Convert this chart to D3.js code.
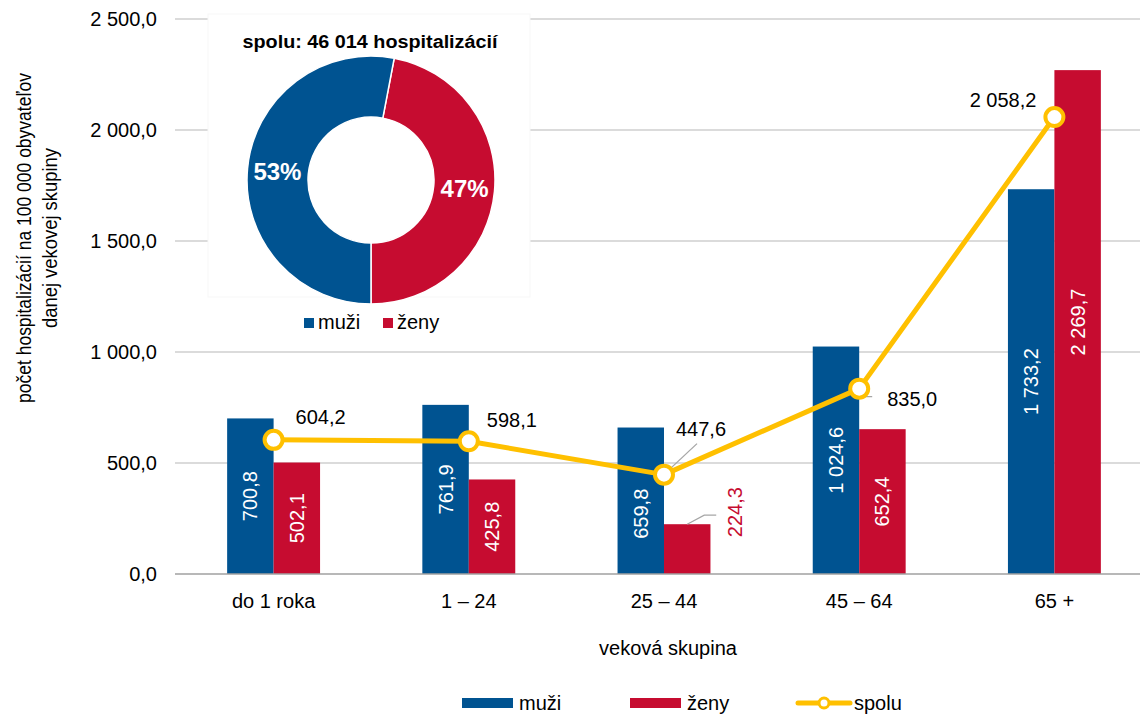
<!DOCTYPE html>
<html>
<head>
<meta charset="utf-8">
<script src="https://cdn.jsdelivr.net/npm/d3@7"></script>
<style>
  html, body { margin: 0; padding: 0; background: #fff; }
  svg { display: block; font-family: "Liberation Sans", Arial, sans-serif; }
</style>
</head>
<body>
<svg id="chart" width="1140" height="714"></svg>
<script>
// ---------------- DATA ----------------
const categories = ["do 1 roka", "1 – 24", "25 – 44", "45 – 64", "65 +"];
const muzi  = [700.8, 761.9, 659.8, 1024.6, 1733.2];
const zeny  = [502.1, 425.8, 224.3, 652.4, 2269.7];
const spolu = [604.2, 598.1, 447.6, 835.0, 2058.2];
const yTicks = [0, 500, 1000, 1500, 2000, 2500];
const pieLabels = ["muži", "ženy"];
const pieShares = [53, 47];
const pieTitle = "spolu: 46 014 hospitalizácií";
const seriesNames = ["muži", "ženy", "spolu"];
const yTitleLines = ["počet hospitalizácií na 100 000 obyvateľov", "danej vekovej skupiny"];
const xTitle = "veková skupina";

// ---------------- STYLE / LAYOUT ----------------
const BLUE = "#005391", RED = "#C60C30", YELLOW = "#FFC000";
const GRID = "#cfcfcf", AXIS = "#a0a0a0";
const FONT = 20;

const svg = d3.select("#chart");
const W = 1140, H = 714;

const loc = d3.formatLocale({decimal: ",", thousands: " ", grouping: [3], currency: ["", ""]});
const fmt = loc.format(",.1f");

const x = d3.scaleBand().domain(categories).range([176, 1152]).paddingInner(0.524).paddingOuter(0.262);
const xs = d3.scaleBand().domain(["m", "z"]).range([0, x.bandwidth()]);
const y = d3.scaleLinear().domain([0, 2500]).range([574, 19]);

// gridlines
svg.append("g").selectAll("line").data(yTicks.filter(d => d > 0)).join("line")
  .attr("x1", 175).attr("x2", W).attr("y1", d => y(d)).attr("y2", d => y(d))
  .attr("stroke", GRID).attr("stroke-width", 1.6);

// y axis labels (using d3 axis for the text)
const yAxis = d3.axisLeft(y).tickValues(yTicks).tickFormat(fmt).tickSize(0).tickPadding(0);
const yg = svg.append("g").attr("transform", "translate(157,0)").call(yAxis);
yg.select(".domain").remove();
yg.selectAll("text").attr("font-size", FONT).attr("fill", "#000")
  .attr("font-family", "'Liberation Sans', Arial, sans-serif");

// ---------------- PIE INSET ----------------
const inset = svg.append("g");
inset.append("rect").attr("x", 208).attr("y", 14).attr("width", 322).attr("height", 283)
  .attr("fill", "#fff").attr("stroke", "#f7f7f7").attr("stroke-width", 1);

const pcx = 371, pcy = 180, rOut = 124, rIn = 63;
const pieTotal = d3.sum(pieShares);
// ženy drawn first so that its slice ends at the bottom
const pieData = [{name: pieLabels[1], v: pieShares[1], c: RED}, {name: pieLabels[0], v: pieShares[0], c: BLUE}];
const start = Math.PI - 2 * Math.PI * pieShares[1] / pieTotal;
const pie = d3.pie().sort(null).value(d => d.v).startAngle(start).endAngle(start + 2 * Math.PI);
const arc = d3.arc().innerRadius(rIn).outerRadius(rOut);
const labelArc = d3.arc().innerRadius(94).outerRadius(94);
const pg = inset.append("g").attr("transform", `translate(${pcx},${pcy})`);
const arcs = pie(pieData);
pg.selectAll("path").data(arcs).join("path")
  .attr("d", arc).attr("fill", d => d.data.c).attr("stroke", "#fff").attr("stroke-width", 1.5);
pg.selectAll("text").data(arcs).join("text")
  .attr("transform", d => `translate(${labelArc.centroid(d)})`)
  .attr("text-anchor", "middle").attr("dy", "0.36em")
  .attr("font-size", 24).attr("font-weight", "bold").attr("fill", "#fff")
  .text(d => Math.round(d.data.v / pieTotal * 100) + "%");

inset.append("text").attr("x", 370).attr("y", 48).attr("text-anchor", "middle")
  .attr("font-size", 18).attr("font-weight", "bold").attr("fill", "#000")
  .attr("textLength", 255).attr("lengthAdjust", "spacingAndGlyphs")
  .text(pieTitle);

// pie legend
const pl = [{n: pieLabels[0], c: BLUE, x: 304}, {n: pieLabels[1], c: RED, x: 383}];
pl.forEach(d => {
  inset.append("rect").attr("x", d.x).attr("y", 318).attr("width", 10).attr("height", 10).attr("fill", d.c);
  inset.append("text").attr("x", d.x + 14).attr("y", 329).attr("font-size", FONT).attr("fill", "#000").text(d.n);
});

// ---------------- BARS ----------------
const groups = svg.append("g").selectAll("g").data(categories).join("g")
  .attr("transform", d => `translate(${x(d)},0)`);

groups.append("rect").attr("x", xs("m")).attr("width", xs.bandwidth())
  .attr("y", (d, i) => y(muzi[i])).attr("height", (d, i) => y(0) - y(muzi[i])).attr("fill", BLUE);
groups.append("rect").attr("x", xs("z")).attr("width", xs.bandwidth())
  .attr("y", (d, i) => y(zeny[i])).attr("height", (d, i) => y(0) - y(zeny[i])).attr("fill", RED);

// baseline
svg.append("line").attr("x1", 175).attr("x2", W).attr("y1", y(0)).attr("y2", y(0))
  .attr("stroke", AXIS).attr("stroke-width", 1.6);

// bar labels (rotated)
function barLabel(cx, cy, txt, color) {
  svg.append("text").attr("transform", `translate(${cx},${cy}) rotate(-90)`)
    .attr("text-anchor", "middle").attr("dy", "0.35em")
    .attr("font-size", FONT).attr("fill", color).text(txt);
}
categories.forEach((c, i) => {
  const mx = x(c) + xs("m") + xs.bandwidth() / 2;
  const zx = x(c) + xs("z") + xs.bandwidth() / 2;
  const mcy = (y(muzi[i]) + y(0)) / 2 + (muzi[i] < 700 ? 13 : 0);
  barLabel(mx, mcy, fmt(muzi[i]), "#fff");
  if (zeny[i] > 300) {
    barLabel(zx, (y(zeny[i]) + y(0)) / 2, fmt(zeny[i]), "#fff");
  } else {
    // outside label with leader line
    const top = y(zeny[i]);
    svg.append("polyline")
      .attr("points", `${zx},${top} ${zx + 17},${top - 9} ${zx + 29},${top - 9}`)
      .attr("fill", "none").attr("stroke", "#a6a6a6").attr("stroke-width", 1.3);
    barLabel(zx + 48, top - 12, fmt(zeny[i]), RED);
  }
});

// ---------------- LINE ----------------
const cx = c => x(c) + x.bandwidth() / 2;
const line = d3.line().x((d, i) => cx(categories[i])).y(d => y(d));
svg.append("path").datum(spolu).attr("d", line)
  .attr("fill", "none").attr("stroke", YELLOW).attr("stroke-width", 5).attr("stroke-linejoin", "round");

// leader lines for line labels (drawn under markers)
const lp = spolu.map((v, i) => [cx(categories[i]), y(v)]);
svg.append("line").attr("x1", lp[2][0] + 2).attr("y1", lp[2][1] - 2).attr("x2", lp[2][0] + 33).attr("y2", lp[2][1] - 31)
  .attr("stroke", "#a6a6a6").attr("stroke-width", 1.3);
svg.append("polyline").attr("points", `${lp[3][0]},${lp[3][1]} ${lp[3][0]},${lp[3][1] + 8} ${lp[3][0] + 13},${lp[3][1] + 8}`)
  .attr("fill", "none").attr("stroke", "#a6a6a6").attr("stroke-width", 1.3);

svg.append("g").selectAll("circle").data(spolu).join("circle")
  .attr("cx", (d, i) => cx(categories[i])).attr("cy", d => y(d)).attr("r", 9)
  .attr("fill", "#fff").attr("stroke", YELLOW).attr("stroke-width", 4);

// line labels: offsets from marker (layout only)
const lineLabelOffsets = [[22, -16, "start"], [18, -14, "start"], [12, -39, "start"], [28, 17, "start"], [-18, -10, "end"]];
spolu.forEach((v, i) => {
  const o = lineLabelOffsets[i];
  svg.append("text").attr("x", lp[i][0] + o[0]).attr("y", lp[i][1] + o[1])
    .attr("text-anchor", o[2]).attr("font-size", FONT).attr("fill", "#000").text(fmt(v));
});

// ---------------- AXIS TEXT ----------------
svg.append("g").selectAll("text").data(categories).join("text")
  .attr("x", d => cx(d)).attr("y", 608).attr("text-anchor", "middle")
  .attr("font-size", FONT).attr("fill", "#000").text(d => d);

svg.append("text").attr("x", 668).attr("y", 655).attr("text-anchor", "middle")
  .attr("font-size", FONT).attr("fill", "#000").text(xTitle);

const yt = svg.append("text").attr("transform", "translate(31,238) rotate(-90)")
  .attr("text-anchor", "middle").attr("font-size", 19.5).attr("fill", "#000");
const ytLens = [330, 180];
yTitleLines.forEach((t, i) => yt.append("tspan").attr("x", 0).attr("dy", i === 0 ? 0 : 26)
  .attr("textLength", ytLens[i]).attr("lengthAdjust", "spacingAndGlyphs").text(t));

// ---------------- LEGEND ----------------
const lg = svg.append("g");
lg.append("rect").attr("x", 462).attr("y", 698).attr("width", 51).attr("height", 10).attr("fill", BLUE);
lg.append("text").attr("x", 519).attr("y", 710).attr("font-size", FONT).text(seriesNames[0]);
lg.append("rect").attr("x", 630).attr("y", 698).attr("width", 51).attr("height", 10).attr("fill", RED);
lg.append("text").attr("x", 687).attr("y", 710).attr("font-size", FONT).text(seriesNames[1]);
lg.append("line").attr("x1", 798).attr("x2", 850).attr("y1", 703).attr("y2", 703)
  .attr("stroke", YELLOW).attr("stroke-width", 5).attr("stroke-linecap", "round");
lg.append("circle").attr("cx", 824).attr("cy", 703).attr("r", 5).attr("fill", "#fff")
  .attr("stroke", YELLOW).attr("stroke-width", 3);
lg.append("text").attr("x", 854).attr("y", 710).attr("font-size", FONT).text(seriesNames[2]);
</script>
</body>
</html>
